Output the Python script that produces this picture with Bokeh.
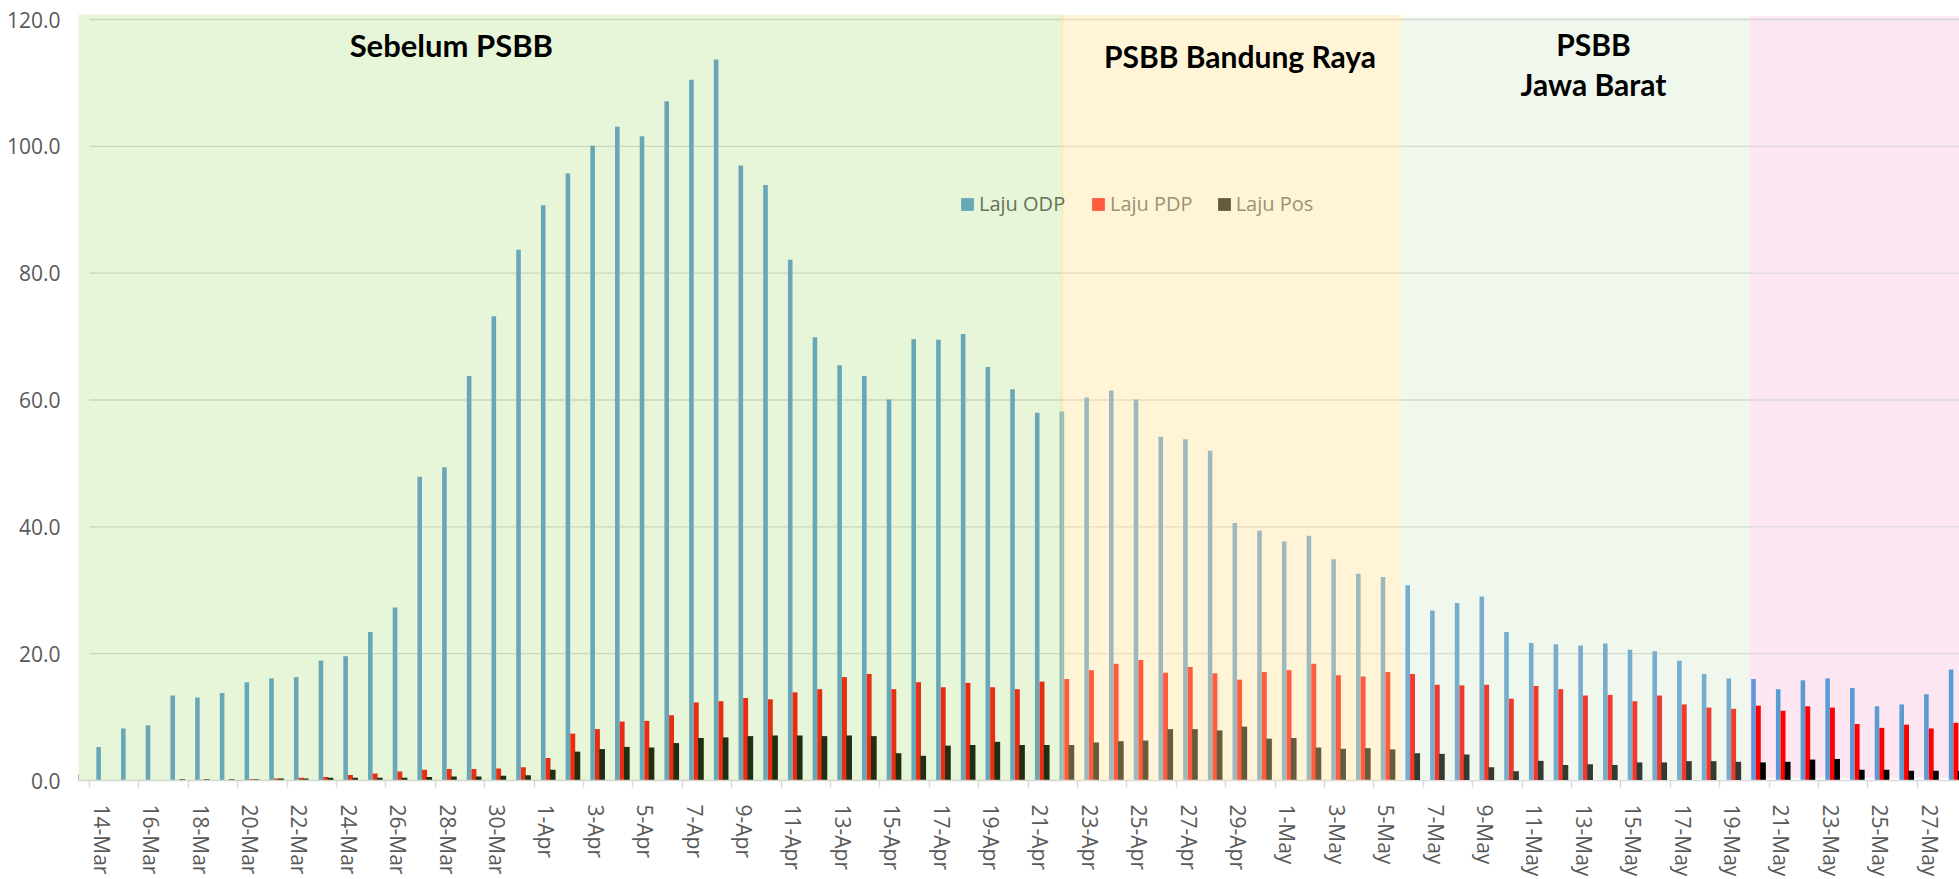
import math
from bokeh.plotting import figure
from bokeh.models import (Range1d, FixedTicker, NumeralTickFormatter, Legend,
                          LegendItem, ColumnDataSource)
from bokeh.core.properties import value
from bokeh.transform import dodge
from bokeh.embed import file_html
from bokeh.resources import INLINE

# ---------------- data ----------------
dates = [
    "14-Mar", "15-Mar", "16-Mar", "17-Mar", "18-Mar", "19-Mar", "20-Mar", "21-Mar", "22-Mar",
    "23-Mar", "24-Mar", "25-Mar", "26-Mar", "27-Mar", "28-Mar", "29-Mar", "30-Mar", "31-Mar",
    "1-Apr", "2-Apr", "3-Apr", "4-Apr", "5-Apr", "6-Apr", "7-Apr", "8-Apr", "9-Apr", "10-Apr",
    "11-Apr", "12-Apr", "13-Apr", "14-Apr", "15-Apr", "16-Apr", "17-Apr", "18-Apr", "19-Apr",
    "20-Apr", "21-Apr", "22-Apr", "23-Apr", "24-Apr", "25-Apr", "26-Apr", "27-Apr", "28-Apr",
    "29-Apr", "30-Apr",
    "1-May", "2-May", "3-May", "4-May", "5-May", "6-May", "7-May", "8-May", "9-May", "10-May",
    "11-May", "12-May", "13-May", "14-May", "15-May", "16-May", "17-May", "18-May", "19-May",
    "20-May", "21-May", "22-May", "23-May", "24-May", "25-May", "26-May", "27-May", "28-May",
]

laju_odp = [5.3, 8.2, 8.7, 13.4, 13.1, 13.8, 15.5, 16.1, 16.3, 18.9, 19.6, 23.4, 27.3,
            47.9, 49.4, 63.8, 73.2, 83.7, 90.7, 95.7, 100.1, 103.1, 101.6, 107.1, 110.5, 113.7,
            97.0, 93.9, 82.1,
            69.9, 65.5, 63.8, 60.1, 69.6, 69.5, 70.4, 65.2, 61.7, 58.0, 58.2, 60.4, 61.5, 60.1,
            54.2, 53.8, 52.0, 40.6, 39.4, 37.7, 38.6,
            34.9, 32.6, 32.1, 30.8, 26.8, 28.0, 29.0, 23.4, 21.7, 21.5, 21.3, 21.6, 20.6, 20.4,
            18.9, 16.8, 16.1, 16.0, 14.4, 15.8, 16.1, 14.6, 11.7, 12.0, 13.6, 17.5]

laju_pdp = [0, 0, 0, 0, 0.1, 0, 0.2, 0.3, 0.45, 0.55, 0.85, 1.1, 1.4, 1.7, 1.8, 1.8, 1.9, 2.1,
            3.55, 7.4, 8.1, 9.3, 9.4, 10.3, 12.3, 12.5, 13.0, 12.8, 13.9, 14.4, 16.3, 16.8, 14.4,
            15.5, 14.7, 15.4, 14.7, 14.4, 15.6, 16.0, 17.4, 18.4, 19.0, 17.0, 17.9, 16.9, 15.9,
            17.1, 17.4, 18.4,
            16.6, 16.4, 17.1, 16.8, 15.1, 15.0, 15.1, 12.9, 14.9, 14.4, 13.4, 13.5, 12.5, 13.4,
            12.0, 11.5, 11.3, 11.8, 11.0, 11.7, 11.5, 8.9, 8.3, 8.8, 8.2, 9.1]

laju_pos = [0, 0, 0, 0.2, 0.2, 0.2, 0.2, 0.3, 0.3, 0.45, 0.45, 0.45, 0.45, 0.55, 0.65, 0.65,
            0.73, 0.83,
            1.7, 4.55, 4.95, 5.3, 5.2, 5.9, 6.7, 6.8, 7.0, 7.1, 7.1, 7.0, 7.1, 7.0, 4.3, 3.9, 5.5,
            5.6, 6.1, 5.6, 5.6, 5.6, 6.0, 6.2, 6.3, 8.1, 8.1, 7.9, 8.5, 6.6, 6.7, 5.2,
            5.0, 5.1, 4.9, 4.3, 4.2, 4.1, 2.1, 1.45, 3.1, 2.45, 2.55, 2.45, 2.85, 2.85, 3.05, 3.05,
            2.95, 2.85, 2.95, 3.3, 3.4, 1.7, 1.7, 1.55, 1.55, 1.5]

series_names = ["Laju ODP", "Laju PDP", "Laju Pos"]
y_ticks = [0, 20, 40, 60, 80, 100, 120]
zone_titles = ["Sebelum PSBB", "PSBB Bandung Raya", "PSBB", "Jawa Barat"]

# ---------------- layout / style ----------------
X_START, X_END = -0.445, 75.71
Y_END = 123.0
LABEL_FONT = "Open Sans"
GREY_TEXT = "#595959"
GRID = "#D9D9D9"

# zones: (left, right, bottom, top, colour, alpha)  in category units
ZONE_GREEN = (-0.445, 39.43, 0.0, 120.8, "#92D050", 0.22)
ZONE_YELLOW = (39.31, 53.12, 0.0, 120.7, "#FFE699", 0.40)
ZONE_LGREEN = (53.12, 67.21, 0.25, 120.4, "#C5E0B4", 0.26)
ZONE_PINK = (67.21, 80.0, 0.4, 120.5, "#FBE6F2", 1.0)

title_x = [14.65, 46.58, 60.89, 60.89]
title_y = [116.0, 114.2, 116.1, 109.9]
title_size = ["31px", "30px", "30px", "30px"]

# legend swatches / labels as they appear through the translucent zone tints
LEG_ODP = "#67A7B8"
LEG_PDP = "#FF5C3D"
LEG_POS = "#665C3D"
LEG_TXT_GREEN = "#657357"
LEG_TXT_YELLOW = "#9B9173"
OFFSCREEN = -50  # x position of the legend-only proxy glyphs (outside the visible range)

x = [i + 0.5 for i in range(len(dates))]
src = ColumnDataSource(dict(x=x, odp=laju_odp, pdp=laju_pdp, pos=laju_pos))

p = figure(width=1959, height=879, output_backend="svg", toolbar_location=None,
           x_range=Range1d(X_START, X_END), y_range=Range1d(0, Y_END),
           min_border_left=78, min_border_right=0, min_border_top=0, min_border_bottom=90)
p.outline_line_color = None
p.background_fill_color = "white"
p.border_fill_color = "white"
p.xgrid.visible = False
p.ygrid.visible = False


def zone(z, level):
    l, r, b, t, c, a = z
    return p.quad(left=[l], right=[r], bottom=[b], top=[t], fill_color=c, fill_alpha=a,
                  line_color=None, level=level)


# pink background (beneath bars)
zone(ZONE_PINK, "underlay")
# horizontal gridlines
p.segment(x0=0, x1=80, y0=y_ticks[1:], y1=y_ticks[1:], line_color=GRID, line_width=1.3,
          level="underlay")

# bars
r_odp = p.vbar(x=dodge("x", -0.13), top="odp", width=0.185, source=src,
               fill_color="#5B9BD5", line_color=None)
r_pdp = p.vbar(x=dodge("x", 0.065), top="pdp", width=0.2, source=src,
               fill_color="#FF0000", line_color=None)
r_pos = p.vbar(x=dodge("x", 0.255), top="pos", width=0.23, source=src,
               fill_color="#000000", line_color=None)

# legend swatch proxies (tinted like the reference, whose legend sits under the zone tints)
px_odp = p.vbar(x=[OFFSCREEN], top=[1], width=0.2, fill_color=LEG_ODP, line_color=None)
px_pdp = p.vbar(x=[OFFSCREEN], top=[1], width=0.2, fill_color=LEG_PDP, line_color=None)
px_pos = p.vbar(x=[OFFSCREEN], top=[1], width=0.2, fill_color=LEG_POS, line_color=None)

common = dict(orientation="horizontal", glyph_width=16, glyph_height=16,
              label_standoff=4, spacing=23, padding=0, margin=0, border_line_alpha=0,
              background_fill_alpha=0, label_text_font=LABEL_FONT,
              label_text_font_size="20px")
legend_a = Legend(items=[LegendItem(label=series_names[0], renderers=[px_odp])],
                  location=(881, 563), label_text_color=LEG_TXT_GREEN, **common)
legend_b = Legend(items=[LegendItem(label=series_names[1], renderers=[px_pdp]),
                         LegendItem(label=series_names[2], renderers=[px_pos])],
                  location=(1012, 563), label_text_color=LEG_TXT_YELLOW, **common)
p.add_layout(legend_a)
p.add_layout(legend_b)

# translucent overlays over the chart
zone(ZONE_GREEN, "overlay")
zone(ZONE_YELLOW, "overlay")
zone(ZONE_LGREEN, "overlay")

# zone titles
p.text(x=title_x, y=title_y, text=zone_titles, text_font=value("Lato"),
       text_font_style="bold", text_font_size=title_size, text_color="#000000",
       text_align="center", text_baseline="alphabetic", level="overlay")

# x axis
xa = p.xaxis[0]
xa.ticker = FixedTicker(ticks=[x[i] for i in range(0, len(dates), 2)],
                        minor_ticks=[float(i) for i in range(0, len(dates) + 1, 2)])
xa.major_label_overrides = {x[i]: dates[i] for i in range(0, len(dates), 2)}
xa.major_label_orientation = -math.pi / 2
xa.major_tick_out = 0
xa.major_tick_in = 0
xa.major_tick_line_color = None
xa.minor_tick_out = 7
xa.minor_tick_in = 0
xa.minor_tick_line_color = GRID
xa.minor_tick_line_width = 1.5
xa.axis_line_color = GRID
xa.axis_line_width = 1.5
xa.major_label_standoff = 17
xa.major_label_text_font = LABEL_FONT
xa.major_label_text_font_size = "21px"
xa.major_label_text_color = GREY_TEXT

# y axis
ya = p.yaxis[0]
ya.ticker = FixedTicker(ticks=y_ticks)
ya.formatter = NumeralTickFormatter(format="0.0")
ya.axis_line_color = None
ya.major_tick_line_color = None
ya.minor_tick_line_color = None
ya.major_label_standoff = 12
ya.major_label_text_font = LABEL_FONT
ya.major_label_text_font_size = "21px"
ya.major_label_text_color = GREY_TEXT

open("out.html", "w").write(file_html(p, INLINE))
